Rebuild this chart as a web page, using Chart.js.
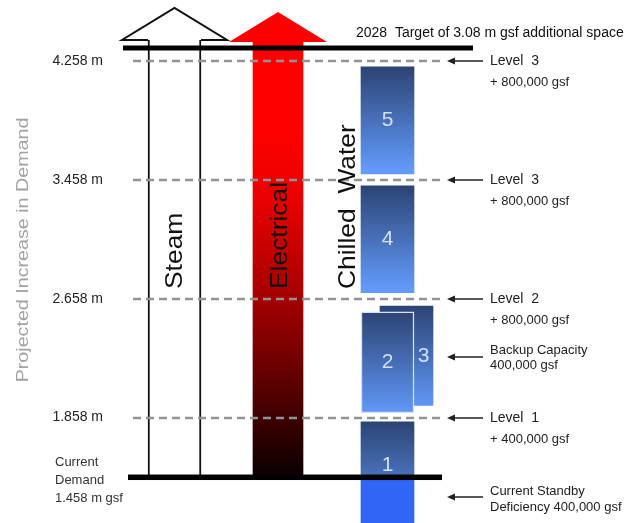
<!DOCTYPE html>
<html><head><meta charset="utf-8">
<script src="https://cdn.jsdelivr.net/npm/chart.js@4.4.0/dist/chart.umd.min.js"></script>
<style>html,body{margin:0;padding:0;background:#fff;overflow:hidden}canvas{display:block}</style>
</head><body>
<canvas id="c" width="632" height="523"></canvas>
<script>
// ---------------- data (million gsf) ----------------
const currentDemand = 1.458;
const levelValues = [1.858, 2.658, 3.458, 4.258];
const levelTickLabels = ['1.858 m', '2.658 m', '3.458 m', '4.258 m'];
const levelNames = ['Level  1', 'Level  2', 'Level  3', 'Level  3'];
const levelAdditions = ['+ 400,000 gsf', '+ 800,000 gsf', '+ 800,000 gsf', '+ 800,000 gsf'];
const chilledBlockLabels = ['1', '2', '4', '5'];
const chilledBlockLow  = [1.458, 1.89, 2.70, 3.50];
const chilledBlockHigh = [1.83, 2.57, 3.42, 4.22];
const backupBlockLabels = ['3'];
const backupBlockLow  = [1.94];
const backupBlockHigh = [2.61];
const deficiency = 0.4;
const utilities = ['Steam', 'Electrical', 'Chilled  Water'];
const demandLabel = ['Current', 'Demand', '1.458 m gsf'];
const backupNote = ['Backup Capacity', '400,000 gsf'];
const deficiencyNote = ['Current Standby', 'Deficiency 400,000 gsf'];
const targetText = '2028  Target of 3.08 m gsf additional space';
const yAxisTitle = 'Projected Increase in Demand';
const yMin = 1.1484, yMax = 4.4013;

// ---------------- layout (pixels; x scale is pixel calibrated) ----------------
const L = {
  axisWidth: 112, topPad: 40,
  steamX: 174.5, steamW: 53, elecX: 278, elecW: 50,
  chilledX: 387.5, backupX: 406.5, blockW: 53,
  dashFrom: 133, dashTo: 440, demandFrom: 128, demandTo: 442,
  targetFrom: 123, targetTo: 473, targetDy: 8,
  arrowTip: 447, arrowEnd: 483, noteX: 490,
  utilBaseX: [182, 287, 355], utilStartY: 289,
  titleX: 24, titleY: 250
};
const FONT = '"Liberation Sans", Arial, sans-serif';

function blueGradient(ctx) {
  const chart = ctx.chart;
  if (!chart.chartArea || !ctx.raw) return '#3d64b0';
  const top = chart.scales.y.getPixelForValue(ctx.raw.y[1]);
  const g = chart.ctx.createLinearGradient(0, top, 0, top + 105);
  g.addColorStop(0, '#2c4474');
  g.addColorStop(1, '#639bfd');
  return g;
}
function redGradient(ctx) {
  const chart = ctx.chart;
  if (!chart.chartArea) return '#c00';
  const y = chart.scales.y;
  const g = chart.ctx.createLinearGradient(0, y.getPixelForValue(currentDemand), 0, y.getPixelForValue(yMax));
  g.addColorStop(0, '#0a0000');
  g.addColorStop(0.18, '#500000');
  g.addColorStop(0.4, '#a20000');
  g.addColorStop(0.63, '#e80000');
  g.addColorStop(0.8, '#ff0000');
  g.addColorStop(1, '#ff0000');
  return g;
}

const decor = {
  id: 'decor',
  afterDatasetsDraw(chart) {
    const {ctx, chartArea: area, scales: {x, y}} = chart;
    const X = v => x.getPixelForValue(v);
    const Y = v => y.getPixelForValue(v);
    ctx.save();
    // dashed level lines
    ctx.setLineDash([8, 5]); ctx.lineWidth = 2.5; ctx.strokeStyle = '#939393';
    levelValues.forEach(v => {
      const py = Math.round(Y(v));
      ctx.beginPath(); ctx.moveTo(X(L.dashFrom), py); ctx.lineTo(X(L.dashTo), py); ctx.stroke();
    });
    ctx.setLineDash([]);
    // arrow heads
    const top = area.top;
    const sx = X(L.steamX), hw = L.steamW / 2;
    ctx.fillStyle = '#fff'; ctx.strokeStyle = '#111'; ctx.lineWidth = 2;
    ctx.beginPath();
    ctx.moveTo(sx - hw, top); ctx.lineTo(sx - 52.5, top); ctx.lineTo(sx, top - 32);
    ctx.lineTo(sx + 52.5, top); ctx.lineTo(sx + hw, top);
    ctx.fill(); ctx.stroke();
    const ex = X(L.elecX);
    ctx.fillStyle = '#ff0000';
    ctx.beginPath(); ctx.moveTo(ex - 49, top + 2); ctx.lineTo(ex, top - 28); ctx.lineTo(ex + 49, top + 2); ctx.closePath(); ctx.fill();
    // target line
    ctx.fillStyle = '#000';
    ctx.fillRect(X(L.targetFrom), top + L.targetDy - 2.5, X(L.targetTo) - X(L.targetFrom), 5);
    // current demand line
    const dy = Y(currentDemand);
    ctx.fillRect(X(L.demandFrom), dy - 2.5, X(L.demandTo) - X(L.demandFrom), 5.5);
    // top text
    ctx.fillStyle = '#111'; ctx.font = '14px ' + FONT; ctx.textAlign = 'left'; ctx.textBaseline = 'middle';
    ctx.fillText(targetText, 356, top - 7);
    // current demand label
    ctx.fillStyle = '#333'; ctx.font = '13px ' + FONT;
    demandLabel.forEach((t, i) => ctx.fillText(t, 55, dy - 15 + i * 18));
    // right notes
    function noteArrow(py) {
      ctx.strokeStyle = '#222'; ctx.lineWidth = 1.5;
      ctx.beginPath(); ctx.moveTo(L.arrowTip + 5, py); ctx.lineTo(L.arrowEnd, py); ctx.stroke();
      ctx.fillStyle = '#222';
      ctx.beginPath(); ctx.moveTo(L.arrowTip, py); ctx.lineTo(L.arrowTip + 8, py - 3.5); ctx.lineTo(L.arrowTip + 8, py + 3.5); ctx.closePath(); ctx.fill();
    }
    ctx.fillStyle = '#222';
    levelValues.forEach((v, i) => {
      const py = Math.round(Y(v));
      noteArrow(py);
      ctx.fillStyle = '#222';
      ctx.font = '14px ' + FONT; ctx.fillText(levelNames[i], L.noteX, py);
      ctx.font = '13px ' + FONT; ctx.fillText(levelAdditions[i], L.noteX, py + 21);
    });
    const bMeta = chart.getDatasetMeta(1).data[0];
    const by = Math.round((bMeta.y + bMeta.base) / 2) + 1;
    noteArrow(by);
    ctx.fillStyle = '#222'; ctx.font = '13px ' + FONT;
    ctx.fillText(backupNote[0], L.noteX, by - 7); ctx.fillText(backupNote[1], L.noteX, by + 8);
    const fy = Math.round(dy + 20);
    noteArrow(fy);
    ctx.fillStyle = '#222';
    ctx.fillText(deficiencyNote[0], L.noteX, fy - 6); ctx.fillText(deficiencyNote[1], L.noteX, fy + 10);
    // block numbers
    ctx.fillStyle = 'rgba(225,235,255,0.9)'; ctx.font = '21px ' + FONT; ctx.textAlign = 'center';
    chart.getDatasetMeta(0).data.forEach((el, i) => {
      const cy = (el.y + el.base) / 2 + (i === 0 ? 16 : 0);
      ctx.fillText(chilledBlockLabels[i], el.x, cy);
    });
    chart.getDatasetMeta(1).data.forEach((el, i) => {
      ctx.fillText(backupBlockLabels[i], el.x + 17, (el.y + el.base) / 2);
    });
    // rotated texts
    function rotText(text, bx, byy, font, color, stretch, align, base) {
      ctx.save(); ctx.translate(bx, byy); ctx.rotate(-Math.PI / 2); ctx.scale(stretch, 1);
      ctx.font = font; ctx.fillStyle = color; ctx.textAlign = align; ctx.textBaseline = base;
      ctx.fillText(text, 0, 0); ctx.restore();
    }
    utilities.forEach((t, i) => rotText(t, L.utilBaseX[i], L.utilStartY, '24px ' + FONT, '#111', 1.1, 'left', 'alphabetic'));
    rotText(yAxisTitle, L.titleX, L.titleY, '16px ' + FONT, '#a3a3a3', 1.23, 'center', 'middle');
    ctx.restore();
  }
};

const pt = (xv, lo, hi) => ({x: xv, y: [lo, hi]});
new Chart(document.getElementById('c'), {
  type: 'bar',
  data: {
    datasets: [
      { label: 'Chilled water blocks',
        data: chilledBlockLow.map((lo, i) => pt(L.chilledX, lo, chilledBlockHigh[i])),
        backgroundColor: blueGradient,
        borderColor: ctx => ctx.dataIndex === 1 ? 'rgba(214,224,244,1)' : 'rgba(0,0,0,0)',
        borderWidth: ctx => ctx.dataIndex === 1 ? 1.5 : 0,
        borderSkipped: false, barThickness: L.blockW },
      { label: 'Backup capacity',
        data: backupBlockLow.map((lo, i) => pt(L.backupX, lo, backupBlockHigh[i])),
        backgroundColor: blueGradient, borderWidth: 0, barThickness: L.blockW },
      { label: 'Standby deficiency',
        data: [pt(L.chilledX, currentDemand - deficiency, currentDemand)],
        backgroundColor: '#3066f5', borderWidth: 0, barThickness: L.blockW },
      { label: 'Electrical',
        data: [pt(L.elecX, currentDemand, yMax)],
        backgroundColor: redGradient, borderWidth: 0, barThickness: L.elecW },
      { label: 'Steam',
        data: [pt(L.steamX, currentDemand, yMax)],
        backgroundColor: '#ffffff', borderColor: '#111',
        borderWidth: {left: 2, right: 2, top: 0, bottom: 0},
        borderSkipped: false, barThickness: L.steamW }
    ]
  },
  options: {
    responsive: false, animation: false, devicePixelRatio: 1, events: [],
    grouped: false,
    layout: {padding: {top: L.topPad, left: 0, right: 0, bottom: 0}},
    plugins: {legend: {display: false}, tooltip: {enabled: false}},
    scales: {
      x: {type: 'linear', min: L.axisWidth, max: 632, offset: false, display: false},
      y: {
        type: 'linear', min: yMin, max: yMax, position: 'left',
        grid: {display: false, drawTicks: false}, border: {display: false},
        ticks: {padding: 9, color: '#222', font: {family: FONT, size: 14},
          callback: v => { const i = levelValues.findIndex(l => Math.abs(l - v) < 1e-6); return i >= 0 ? levelTickLabels[i] : ''; }},
        afterBuildTicks: s => { s.ticks = levelValues.map(v => ({value: v})); },
        afterFit: s => { s.width = L.axisWidth; s.paddingTop = 0; s.paddingBottom = 0; }
      }
    }
  },
  plugins: [decor]
});
</script>
</body></html>
